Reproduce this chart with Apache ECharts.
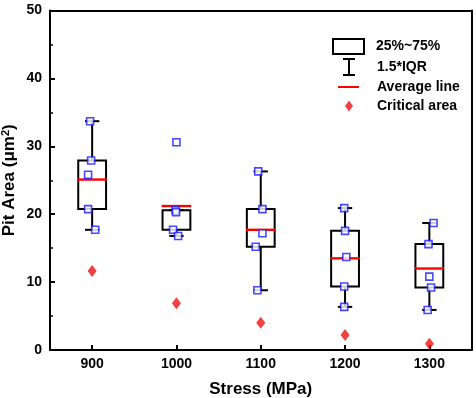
<!DOCTYPE html>
<html><head><meta charset="utf-8">
<script src="https://cdn.jsdelivr.net/npm/echarts@6/dist/echarts.min.js"></script>
<style>html,body{margin:0;padding:0;background:#fff}#c{width:476px;height:398px}</style>
</head><body><div id="c"></div>
<script>
// ---- data ----
const categories = ['900', '1000', '1100', '1200', '1300'];
const stressValues = [900, 1000, 1100, 1200, 1300];
const q1Values = [20.75, 17.7, 15.2, 9.35, 9.2];
const q3Values = [27.9, 20.6, 20.75, 17.55, 15.6];
const whiskerLow = [17.7, 16.8, 8.8, 6.35, 5.9];
const whiskerHigh = [33.7, 20.6, 26.3, 20.9, 18.7];
const meanValues = [25.1, 21.2, 17.7, 13.5, 12.0];
const criticalValues = [11.65, 6.9, 4.0, 2.2, 0.93];
// raw measurements: [stress (with small horizontal jitter), area]
const pointStress = [897.6, 898.8, 895.2, 895.2, 903.6,
                     1000, 999, 999.5, 996, 1002,
                     1097, 1102, 1102, 1094, 1096,
                     1199, 1200, 1201.5, 1199, 1199,
                     1305, 1299, 1300, 1302, 1298];
const pointArea = [33.7, 27.9, 25.8, 20.75, 17.7,
                   30.6, 20.6, 20.3, 17.7, 16.8,
                   26.3, 20.75, 17.2, 15.2, 8.8,
                   20.9, 17.55, 13.7, 9.35, 6.35,
                   18.7, 15.6, 10.8, 9.2, 5.9];

const FONT = 'Liberation Sans, Arial, sans-serif';
const BOXW = 33;   // box width in MPa units
const CAPW = 17;   // whisker cap width in MPa units

const chart = echarts.init(document.getElementById('c'), null, {renderer: 'canvas'});

function renderBox(params, api) {
  const x = api.value(0);
  const a = api.coord([x, api.value(2)]);
  const b = api.coord([x, api.value(1)]);
  const w = api.size([BOXW, 0])[0];
  return {type: 'rect', shape: {x: a[0] - w / 2, y: a[1], width: w, height: b[1] - a[1]},
          style: {fill: 'none', stroke: '#000', lineWidth: 2}};
}
function renderWhisker(params, api) {
  const x = api.value(0);
  const lo = api.coord([x, api.value(1)]);
  const q1 = api.coord([x, api.value(2)]);
  const q3 = api.coord([x, api.value(3)]);
  const hi = api.coord([x, api.value(4)]);
  const cw = api.size([CAPW, 0])[0];
  const st = {stroke: '#000', lineWidth: 2};
  return {type: 'group', children: [
    {type: 'line', shape: {x1: hi[0], y1: hi[1], x2: q3[0], y2: q3[1]}, style: st},
    {type: 'line', shape: {x1: lo[0], y1: lo[1], x2: q1[0], y2: q1[1]}, style: st},
    {type: 'line', shape: {x1: hi[0] - cw / 2, y1: hi[1], x2: hi[0] + cw / 2, y2: hi[1]}, style: st},
    {type: 'line', shape: {x1: lo[0] - cw / 2, y1: lo[1], x2: lo[0] + cw / 2, y2: lo[1]}, style: st}
  ]};
}
function renderMean(params, api) {
  const x = api.value(0);
  const p = api.coord([x, api.value(1)]);
  const w = api.size([BOXW + 2, 0])[0];
  return {type: 'line', shape: {x1: p[0] - w / 2, y1: p[1], x2: p[0] + w / 2, y2: p[1]},
          style: {stroke: '#ff0000', lineWidth: 2.4}};
}

const boxData = stressValues.map((s, i) => [s, q1Values[i], q3Values[i]]);
const whiskerData = stressValues.map((s, i) => [s, whiskerLow[i], q1Values[i], q3Values[i], whiskerHigh[i]]);
const meanData = stressValues.map((s, i) => [s, meanValues[i]]);
const critData = stressValues.map((s, i) => [s, criticalValues[i]]);
const pointData = pointStress.map((s, i) => [s, pointArea[i]]);

const legendText = {fontFamily: FONT, fontWeight: 'bold', fontSize: 14, color: '#000'};
function oneLegend(name, left, top, w, h, icon, itemStyle, padLeft) {
  return {show: true, selectedMode: false, orient: 'vertical', left: left, top: top,
          itemWidth: w, itemHeight: h, padding: 0,
          textStyle: Object.assign({padding: [0, 0, 0, padLeft]}, legendText),
          data: [{name: name, icon: icon, itemStyle: itemStyle}]};
}

chart.setOption({
  animation: false,
  backgroundColor: '#fff',
  grid: {left: 50, right: 4.5, top: 10.5, bottom: 48, outerBoundsMode: 'none', containLabel: false},
  legend: [
    oneLegend('25%~75%', 332, 38, 31, 15, 'rect', {color: '#fff', borderColor: '#000', borderWidth: 2}, 7),
    oneLegend('1.5*IQR', 343, 58, 12, 18, 'path://M0,0h12v2h-5v14h5v2h-12v-2h5v-14h-5z', {color: '#000', borderWidth: 0}, 17),
    oneLegend('Average line', 338, 80, 21, 2, 'path://M0,0h21v2h-21z', {color: '#ff0000', borderWidth: 0}, 13),
    oneLegend('Critical area', 345, 99, 8, 11, 'diamond', {color: '#ee1111', borderWidth: 0}, 19)
  ],
  xAxis: [{
    type: 'category', data: categories, position: 'bottom', boundaryGap: true,
    name: 'Stress (MPa)', nameLocation: 'middle', nameGap: 31, nameMoveOverlap: false,
    nameTextStyle: {fontFamily: FONT, fontWeight: 'bold', fontSize: 17, color: '#000'},
    axisLine: {show: true, lineStyle: {color: '#000', width: 2}},
    axisTick: {show: true, inside: true, alignWithLabel: true, length: 5, lineStyle: {color: '#000', width: 2}},
    axisLabel: {fontFamily: FONT, fontWeight: 'bold', fontSize: 14, color: '#000', margin: 7},
    splitLine: {show: false}
  }, {
    type: 'value', min: 850, max: 1350, position: 'top',
    axisLine: {show: true, onZero: false, lineStyle: {color: '#000', width: 2}},
    axisTick: {show: false}, axisLabel: {show: false}, splitLine: {show: false}
  }],
  yAxis: [{
    type: 'value', min: 0, max: 50, interval: 10, position: 'left',
    name: '{t|Pit Area (μm}{s|2}{t|)}', nameLocation: 'middle', nameGap: 31, nameRotate: 90,
    nameMoveOverlap: false,
    nameTextStyle: {rich: {
      t: {fontFamily: FONT, fontWeight: 'bold', fontSize: 17, color: '#000'},
      s: {fontFamily: FONT, fontWeight: 'bold', fontSize: 11, color: '#000', verticalAlign: 'top', padding: [0, 0, 8, 0]}
    }},
    axisLine: {show: true, onZero: false, lineStyle: {color: '#000', width: 2}},
    axisTick: {show: true, inside: true, length: 5, lineStyle: {color: '#000', width: 2}},
    minorTick: {show: true, splitNumber: 2, length: 3, lineStyle: {color: '#000', width: 1.5}},
    axisLabel: {fontFamily: FONT, fontWeight: 'bold', fontSize: 14, color: '#000', margin: 8},
    splitLine: {show: false}
  }, {
    type: 'value', min: 0, max: 50, interval: 10, position: 'right',
    axisLine: {show: true, onZero: false, lineStyle: {color: '#000', width: 2}},
    axisTick: {show: false}, axisLabel: {show: false}, splitLine: {show: false}
  }],
  series: [
    {name: '25%~75%', type: 'custom', xAxisIndex: 1, yAxisIndex: 0, renderItem: renderBox, data: boxData,
     itemStyle: {color: '#000'}, z: 2},
    {name: '1.5*IQR', type: 'custom', xAxisIndex: 1, yAxisIndex: 0, renderItem: renderWhisker, data: whiskerData,
     itemStyle: {color: '#000'}, z: 2},
    {name: 'Average line', type: 'custom', xAxisIndex: 1, yAxisIndex: 0, renderItem: renderMean, data: meanData,
     itemStyle: {color: '#ff0000'}, z: 3},
    {name: 'Critical area', type: 'scatter', xAxisIndex: 1, yAxisIndex: 0, data: critData,
     symbol: 'diamond', symbolSize: [9, 12], itemStyle: {color: '#ee1111'}, z: 4},
    {name: 'points', type: 'scatter', xAxisIndex: 1, yAxisIndex: 0, data: pointData,
     symbol: 'rect', symbolSize: 7, itemStyle: {color: '#fff', borderColor: '#1a1aff', borderWidth: 1.6}, z: 5}
  ]
});
</script></body></html>
